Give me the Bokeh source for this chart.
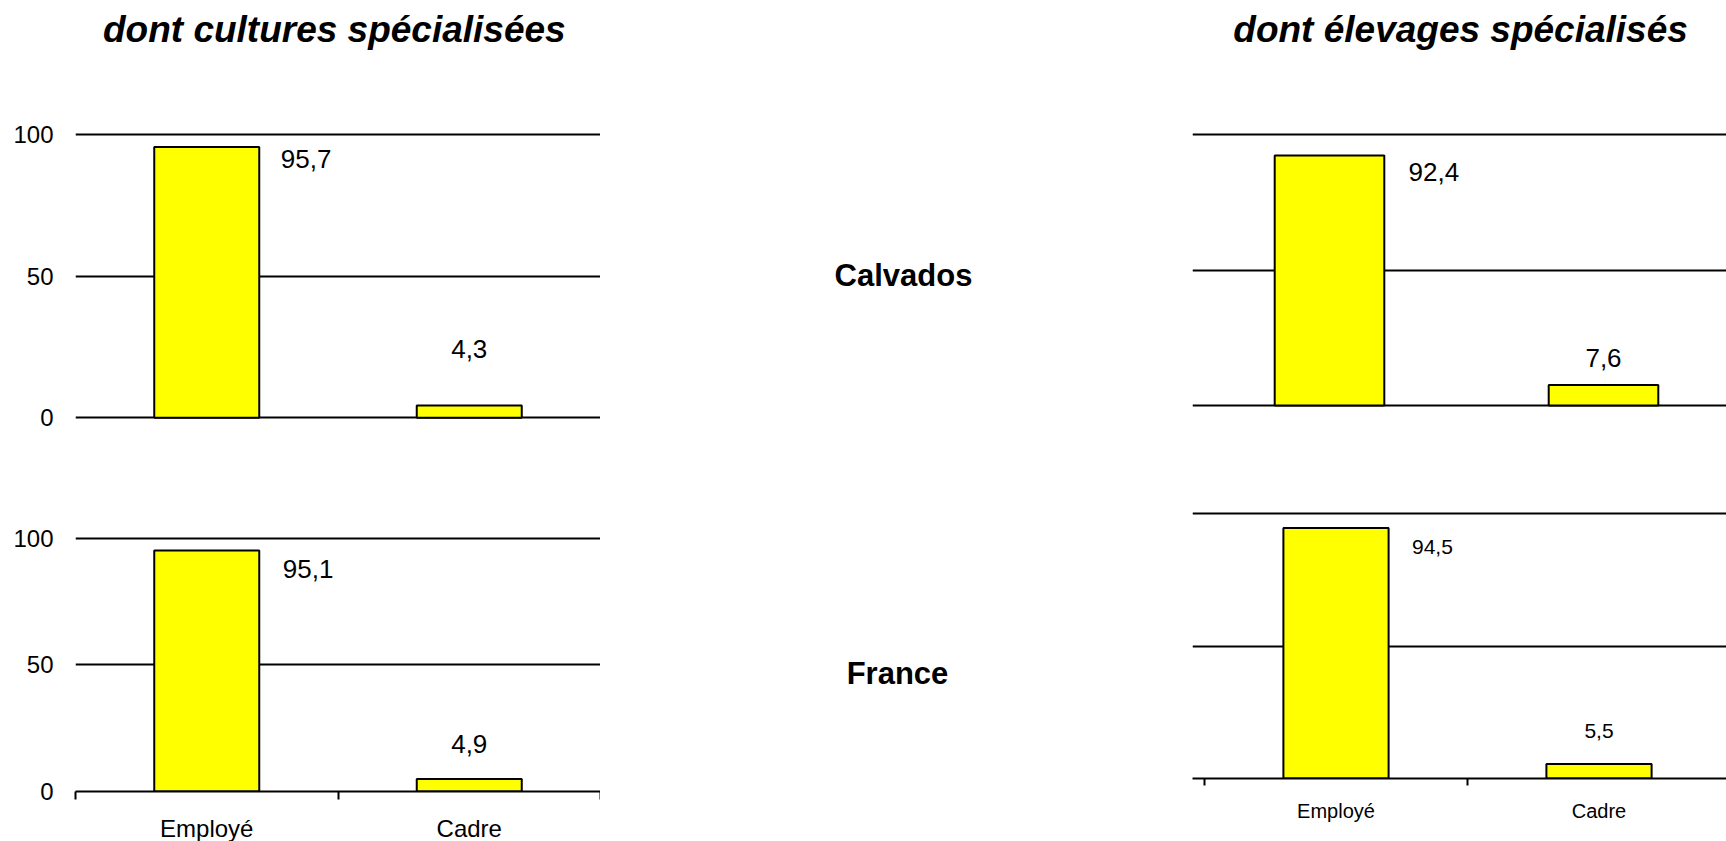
from bokeh.plotting import figure
from bokeh.layouts import column, row
from bokeh.models import Range1d, FixedTicker, Grid
from bokeh.embed import file_html
from bokeh.resources import INLINE
from bokeh.core.properties import value

# ---------------- data ----------------
categories = ["Employé", "Cadre"]
cultures_calvados = [95.7, 4.3]
cultures_france = [95.1, 4.9]
elevages_calvados = [92.4, 7.6]
elevages_france = [94.5, 5.5]
y_ticks = [0, 50, 100]
column_titles = ["dont cultures spécialisées", "dont élevages spécialisés"]
row_labels = ["Calvados", "France"]

FONT = "Liberation Sans"
YELLOW = "#FFFF00"


def fmt(v):
    return f"{v:.1f}".replace(".", ",")


def text_fig(left_border, frame_w, h, items):
    p = figure(title=None, frame_width=frame_w, frame_height=h,
               x_range=Range1d(0, 1), y_range=Range1d(0, h),
               x_axis_type=None, y_axis_type=None, toolbar_location=None,
               output_backend="svg", min_border_left=left_border,
               min_border_right=0, min_border_top=0, min_border_bottom=0)
    p.outline_line_color = None
    for fx, ty, t, size, style in items:
        p.text(x=[fx], y=[ty], text=[t], text_font=value(FONT), text_font_size=size,
               text_font_style=style, text_align="center", text_baseline="alphabetic",
               text_color="black")
    return p


def y_range_for(frame_top, frame_h, y100, y0):
    ppu = (y0 - y100) / 100.0
    return Range1d(-(frame_top + frame_h - y0) / ppu, 100 + (y100 - frame_top) / ppu)


def chart(vals, left_border, frame_w, x_start, x_end, row_top, top_border, frame_h,
          bottom_border, y100, y0, show_y, show_x, val_size, cat_size,
          emp_dx, emp_dy, cad_dy, tick_out, standoff):
    frame_top = row_top + top_border
    p = figure(title=None, frame_width=frame_w, frame_height=frame_h,
               x_range=Range1d(x_start, x_end),
               y_range=y_range_for(frame_top, frame_h, y100, y0),
               x_axis_type="linear" if show_x else None,
               y_axis_type="linear" if show_y else None,
               toolbar_location=None, output_backend="svg",
               min_border_left=left_border, min_border_right=0,
               min_border_top=top_border, min_border_bottom=bottom_border)
    p.outline_line_color = None
    for g in p.grid:
        g.visible = False
    p.add_layout(Grid(dimension=1, ticker=FixedTicker(ticks=y_ticks),
                      grid_line_color="black", grid_line_width=2))

    xs = [i + 0.5 for i in range(len(categories))]

    if show_y:
        ax = p.yaxis[0]
        ax.ticker = FixedTicker(ticks=y_ticks)
        ax.axis_line_color = None
        ax.major_tick_line_color = None
        ax.minor_tick_line_color = None
        ax.major_tick_out = 0
        ax.major_tick_in = 0
        ax.major_label_standoff = 22
        ax.major_label_text_font = FONT
        ax.major_label_text_font_size = "24px"
        ax.major_label_text_color = "black"

    if show_x:
        ax = p.xaxis[0]
        ax.ticker = FixedTicker(ticks=xs, minor_ticks=list(range(len(categories) + 1)))
        ax.major_label_overrides = {x: c for x, c in zip(xs, categories)}
        ax.axis_line_color = "black"
        ax.axis_line_width = 2
        ax.major_tick_line_color = None
        ax.major_tick_out = tick_out
        ax.major_tick_in = 0
        ax.minor_tick_line_color = "black"
        ax.minor_tick_line_width = 2
        ax.minor_tick_out = tick_out
        ax.minor_tick_in = 0
        ax.major_label_standoff = standoff
        ax.major_label_text_font = FONT
        ax.major_label_text_font_size = cat_size
        ax.major_label_text_color = "black"

    p.vbar(x=xs, top=vals, bottom=0, width=0.4, fill_color=YELLOW,
           line_color="black", line_width=2)

    p.text(x=[xs[0]], y=[vals[0]], text=[fmt(vals[0])], x_offset=emp_dx, y_offset=emp_dy,
           text_align="left", text_baseline="middle", text_font=value(FONT),
           text_font_size=val_size, text_color="black")
    p.text(x=[xs[1]], y=[vals[1]], text=[fmt(vals[1])], x_offset=0, y_offset=-cad_dy,
           text_align="center", text_baseline="middle", text_font=value(FONT),
           text_font_size=val_size, text_color="black")
    return p


# ---- left column (x 0..600) ----
tl = chart(cultures_calvados, 75, 525, 0, 2.0, 80, 50, 291, 59, 134.3, 417.2,
           True, False, "26px", "24px", 74, 12, 57, 8, 13)
bl = chart(cultures_france, 75, 525, 0, 2.0, 480, 54, 257, 50, 537.5, 791,
           True, True, "26px", "24px", 76, 19, 35, 8, 15)
left_col = column(
    text_fig(75, 525, 80, [(0.493, 51.3, column_titles[0], "37px", "bold italic")]),
    tl, bl)

# ---- middle column (x 600..1150) ----
mid_col = column(
    text_fig(0, 550, 80, []),
    text_fig(0, 550, 400, [(303 / 550, 205, row_labels[0], "31px", "bold")]),
    text_fig(0, 550, 361, [(297 / 550, 168, row_labels[1], "31px", "bold")]),
)

# ---- right column (x 1150..1726) ----
tr = chart(elevages_calvados, 42, 534, 0, 534 / 274, 80, 50, 291, 59, 134.3, 405.1,
           False, False, "26px", "20px", 79, 17, 27, 7, 12)
br = chart(elevages_france, 42, 534, -12 / 263, 522 / 263, 480, 29, 269, 63, 513, 778,
           False, True, "21px", "20px", 76, 19, 33, 7, 14)
right_col = column(
    text_fig(42, 534, 80, [(0.502, 51.3, column_titles[1], "37px", "bold italic")]),
    tr, br)

layout = row(left_col, mid_col, right_col)

open("out.html", "w").write(file_html(layout, INLINE))
